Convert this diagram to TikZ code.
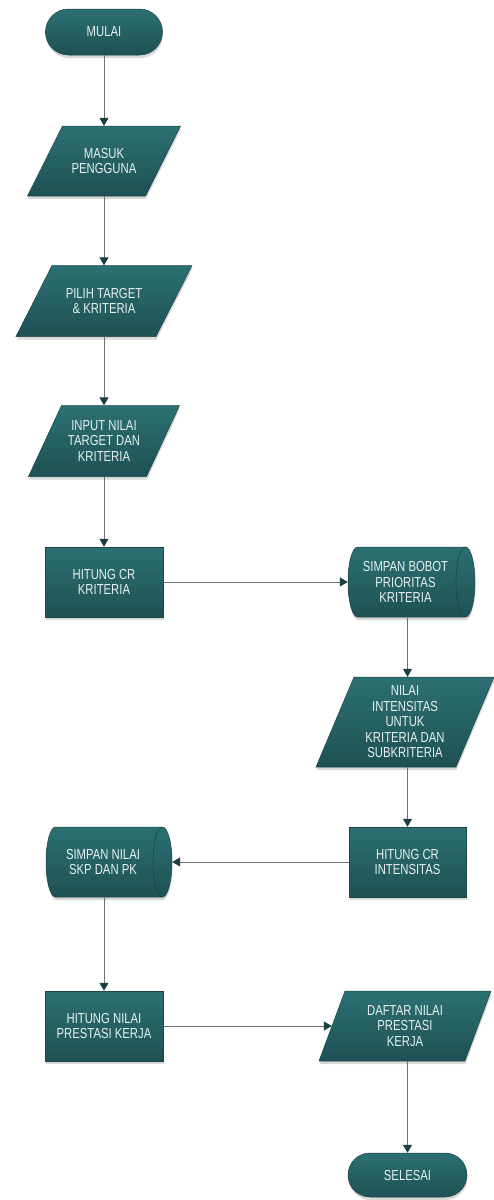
\documentclass[tikz,border=0pt]{standalone}
\usepackage{fontspec}
\setmainfont[FakeStretch=0.78]{Liberation Sans}
\usetikzlibrary{shapes.geometric,arrows.meta,shadows}
\definecolor{tealtop}{HTML}{2C7073}
\definecolor{tealbot}{HTML}{1E5154}
\definecolor{tealedge}{HTML}{1A4547}
\definecolor{txt}{HTML}{E8F0F0}
\definecolor{linec}{HTML}{6A7272}
\definecolor{tipc}{HTML}{1B3F41}
\tikzset{
 shapefill/.style={top color=tealtop,bottom color=tealbot,draw=tealedge,line width=0.5pt,
   drop shadow={shadow xshift=0.5pt,shadow yshift=-3pt,opacity=0.3}},
 edgeline/.style={draw=tealedge,line width=0.6pt},
 lbl/.style={text=txt,font=\fontsize{14.5}{15.5}\selectfont,align=center,inner sep=0pt},
 term/.style={shapefill,lbl,rectangle,rounded corners=23pt,minimum width=117pt,minimum height=46pt},
 proc/.style={shapefill,lbl,rectangle,minimum width=118pt,minimum height=70pt},
 flow/.style={draw=linec,line width=1pt,-{Triangle[length=8pt,width=9pt,color=tipc,fill=tipc]}},
}
% name, cx, cy, w, h, off, text
\newcommand\paranode[7]{%
 \path[shapefill] ({#2-#4/2+#6/2},{#3-#5/2}) -- ({#2+#4/2+#6/2},{#3-#5/2})
   -- ({#2+#4/2-#6/2},{#3+#5/2}) -- ({#2-#4/2-#6/2},{#3+#5/2}) -- cycle;
 \node[lbl,minimum width=#4pt,minimum height=#5pt] (#1) at (#2,#3) {#7};}
% name, cx, cy, w, half height, rx, text
\newcommand\storenode[7]{%
 \path[shapefill] ({#2-#4/2+#6},{#3-#5}) -- ({#2+#4/2-#6},{#3-#5})
   arc[start angle=90,end angle=-90,x radius=#6pt,y radius=#5pt]
   -- ({#2-#4/2+#6},{#3+#5})
   arc[start angle=270,end angle=90,x radius=#6pt,y radius=#5pt] -- cycle;
 \path[edgeline] ({#2+#4/2-#6},{#3-#5})
   arc[start angle=90,end angle=270,x radius=#6pt,y radius=#5pt];
 \node[minimum width=#4pt,minimum height=2*#5pt,inner sep=0pt] (#1) at (#2,#3) {};
 \node[lbl] (#1text) at ({#2-6},#3) {#7};}
\begin{document}
\begin{tikzpicture}[x=1pt,y=-1pt]
\useasboundingbox[fill=white] (0,0) rectangle (494,1200);
\node[term] (start) at (104,32) {MULAI};
\paranode{masuk}{104}{161}{118}{70}{35}{MASUK\\PENGGUNA}
\paranode{pilih}{104}{301}{140}{71}{36}{PILIH TARGET\\\& KRITERIA}
\paranode{input}{104}{441}{118}{71}{33}{INPUT NILAI\\TARGET DAN\\KRITERIA}
\node[proc] (hitcr) at (104,582) {HITUNG CR\\KRITERIA};
\storenode{sbobot}{411.5}{582}{127}{35}{9.5}{SIMPAN BOBOT\\PRIORITAS\\KRITERIA}
\paranode{nilai}{405}{722}{140}{90}{38}{NILAI\\INTENSITAS\\UNTUK\\KRITERIA DAN\\SUBKRITERIA}
\node[proc,minimum width=117pt] (hitcr2) at (407.5,862) {HITUNG CR\\INTENSITAS};
\storenode{snilai}{109}{862}{126}{35}{9.5}{SIMPAN NILAI\\SKP DAN PK}
\node[proc] (hnp) at (104,1026) {HITUNG NILAI\\PRESTASI KERJA};
\paranode{daftar}{405}{1026}{146}{70}{26}{DAFTAR NILAI\\PRESTASI\\KERJA}
\node[term,minimum width=119pt,minimum height=44pt,rounded corners=22pt] (selesai) at (407.5,1175) {SELESAI};

\draw[flow] (start) -- (masuk);
\draw[flow] (masuk) -- (pilih);
\draw[flow] (pilih) -- (input);
\draw[flow] (input) -- (hitcr);
\draw[flow] (hitcr) -- (sbobot);
\draw[flow] (sbobot.south -| hitcr2) -- (nilai.north -| hitcr2);
\draw[flow] (nilai.south -| hitcr2) -- (hitcr2);
\draw[flow] (hitcr2) -- (snilai);
\draw[flow] (snilai.south -| hnp) -- (hnp);
\draw[flow] (hnp) -- (daftar);
\draw[flow] (daftar.south -| selesai) -- (selesai);
\end{tikzpicture}
\end{document}
